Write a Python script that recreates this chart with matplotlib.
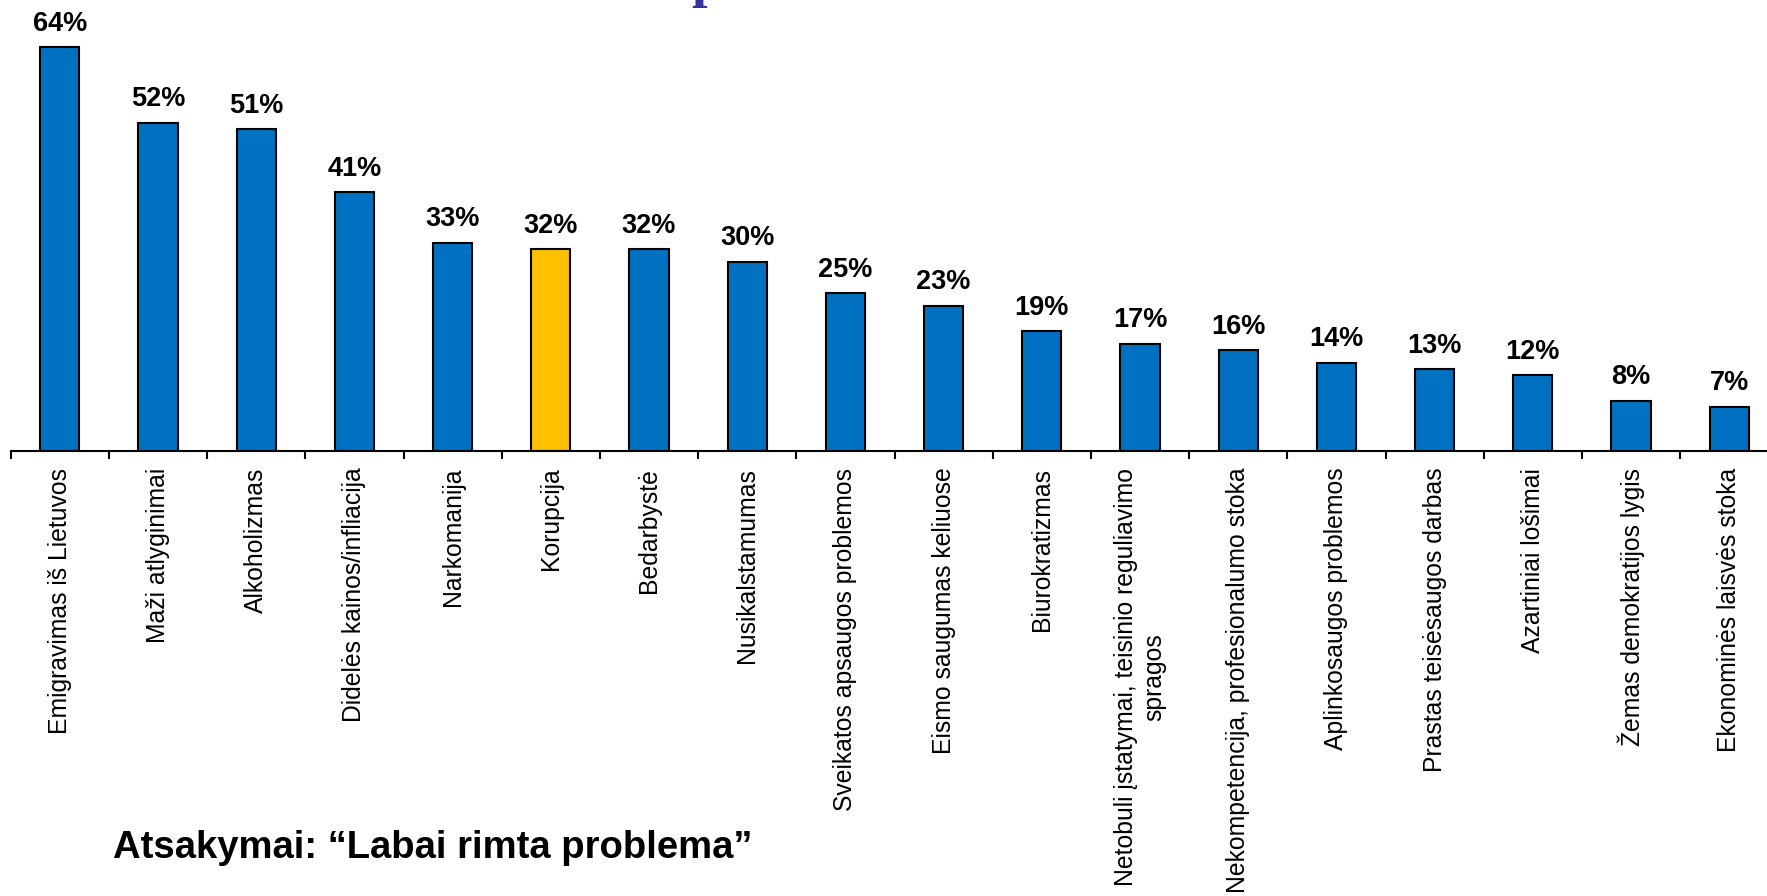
import matplotlib
matplotlib.use("Agg")
import matplotlib.pyplot as plt

categories = [
    "Emigravimas iš Lietuvos",
    "Maži atlyginimai",
    "Alkoholizmas",
    "Didelės kainos/infliacija",
    "Narkomanija",
    "Korupcija",
    "Bedarbystė",
    "Nusikalstamumas",
    "Sveikatos apsaugos problemos",
    "Eismo saugumas keliuose",
    "Biurokratizmas",
    "Netobuli įstatymai, teisinio reguliavimo\nspragos",
    "Nekompetencija, profesionalumo stoka",
    "Aplinkosaugos problemos",
    "Prastas teisėsaugos darbas",
    "Azartiniai lošimai",
    "Žemas demokratijos lygis",
    "Ekonominės laisvės stoka",
]
values = [64, 52, 51, 41, 33, 32, 32, 30, 25, 23, 19, 17, 16, 14, 13, 12, 8, 7]
highlight = "Korupcija"
note_text = "Atsakymai: \u201cLabai rimta problema\u201d"

plt.rcParams['font.family'] = ['Liberation Sans', 'DejaVu Sans']

W, H = 1767, 896
fig = plt.figure(figsize=(W / 100, H / 100), dpi=100)

left_px = 10.7
step_px = 98.2
base_px = 451
px_per_unit = 6.31
ymax = 70
ax = fig.add_axes([left_px / W, 1 - base_px / H,
                   len(categories) * step_px / W, ymax * px_per_unit / H])

colors = ["#FFC000" if c == highlight else "#0070C0" for c in categories]
x = list(range(len(categories)))
ax.bar(x, values, width=0.4, color=colors, edgecolor="black", linewidth=1.5, zorder=2)
ax.set_xlim(-0.5, len(categories) - 0.5)
ax.set_ylim(0, ymax)

for xi, v in zip(x, values):
    ax.annotate(f"{v}%", (xi, v), xytext=(0, 7.5), textcoords="offset points",
                ha="center", va="bottom", fontsize=19.5, fontweight="bold")

for s in ["top", "right", "left"]:
    ax.spines[s].set_visible(False)
ax.spines["bottom"].set_linewidth(1.5)
ax.spines["bottom"].set_zorder(3)
ax.set_yticks([])
ax.set_xticks([i - 0.5 for i in range(len(categories) + 1)])
ax.set_xticklabels([])
ax.set_xticks(x, minor=True)
ax.set_xticklabels(categories, minor=True, rotation=90, fontsize=17.8,
                   ha="center", va="top", multialignment="center")
ax.tick_params(axis="x", which="major", direction="out", length=6, width=1.5)
ax.tick_params(axis="x", which="minor", length=0, pad=12)

fig.text(113 / W, 1 - 858 / H, note_text, fontsize=27.5, fontweight="bold",
         ha="left", va="baseline")

# cut-off title fragment at the very top
fig.text(707 / W, 1 + 4 / H, "p", fontsize=40, fontweight="bold",
         family="Liberation Serif", color="#333399", ha="center", va="baseline")

fig.savefig("out.png", dpi=100)
